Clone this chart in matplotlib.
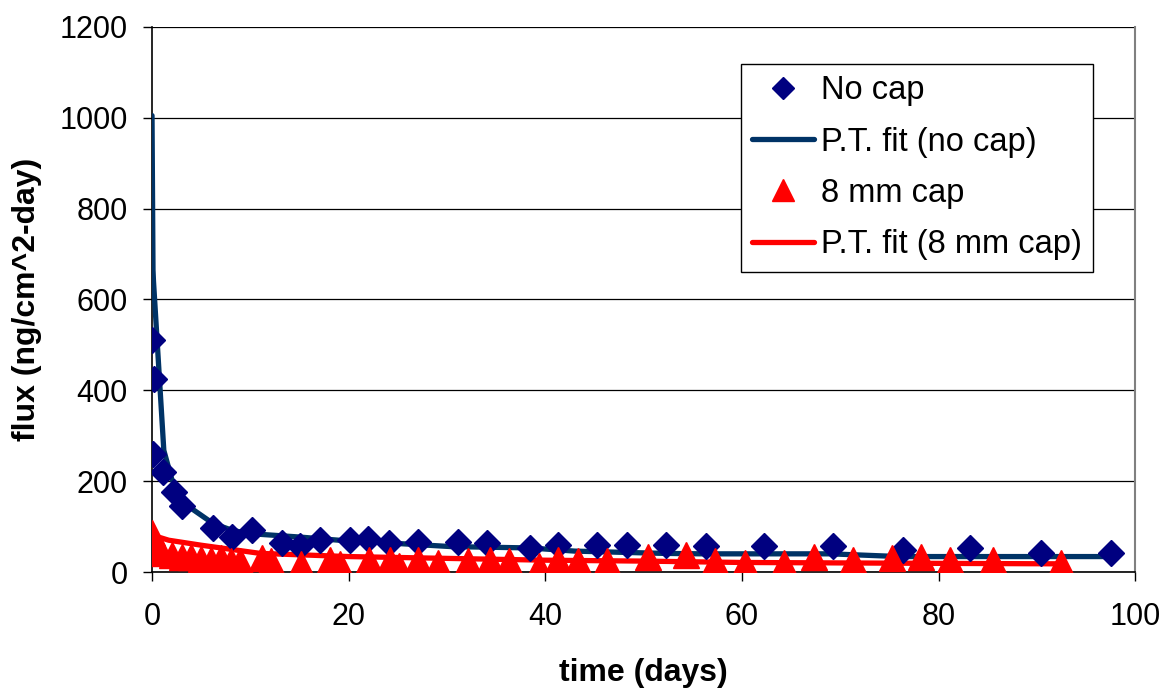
import numpy as np
import matplotlib
matplotlib.use('Agg')
import matplotlib.pyplot as plt

plt.rcParams['font.family'] = ['Liberation Sans', 'DejaVu Sans']

# measured flux, no cap
t_nocap = [0.0, 0.07, 0.2, 1.15, 2.2, 3.1, 6.2, 8.1, 10.2, 13.2, 15.1, 17.1,
           20.1, 22.0, 24.1, 27.1, 31.1, 34.1, 38.4, 41.3, 45.3, 48.3, 52.3,
           56.3, 62.3, 69.3, 76.4, 83.2, 90.4, 97.5]
flux_nocap = [511, 259, 424, 221, 177, 145, 96, 78, 92, 63, 57, 70,
              70, 72, 63, 67, 65, 63, 52, 59, 59, 59, 60,
              58, 58, 58, 48, 52, 41, 41]

# measured flux, 8 mm cap
t_cap = [0.0, 0.4, 1.0, 2.0, 3.0, 4.0, 5.0, 6.0, 7.0, 8.0, 9.0, 11.2, 12.1,
         15.2, 18.1, 19.1, 22.1, 24.2, 25.1, 27.1, 29.1, 32.1, 34.4, 36.3,
         39.4, 41.3, 43.3, 46.3, 50.4, 54.3, 57.3, 60.3, 64.3, 67.3, 71.3,
         75.3, 78.2, 81.2, 85.5, 92.5]
flux_cap = [85, 48, 42, 38, 33, 32, 28, 27, 30, 25, 24, 30, 24,
            18, 26, 18, 26, 26, 14, 26, 20, 24, 27, 24,
            14, 26, 24, 24, 34, 37, 24, 20, 20, 34, 27,
            30, 34, 26, 26, 20]

# P.T. model fits
t_fit_nocap = [0.0, 0.1, 0.15, 1.2, 2.0, 3.2, 4.0, 6.2, 8.0, 9.6, 13.0, 15.0,
               19.0, 24.0, 30.4, 38.4, 43.0, 52.0, 56.0, 62.0, 69.0, 76.0,
               83.0, 90.0, 97.5]
flux_fit_nocap = [1005, 665, 640, 268, 205, 158, 140, 107, 93, 85, 80, 77,
                  70, 64, 56, 53, 46, 41, 40, 40, 40, 34,
                  34, 34, 34]

t_fit_cap = [0.0, 0.2, 1.7, 5.0, 11.0, 20.0, 30.0, 40.0, 50.0, 60.0, 70.0,
             80.0, 92.5]
flux_fit_cap = [100, 80, 70, 59, 41, 34, 30, 26, 24, 21, 20,
                19, 18]

fig = plt.figure(figsize=(11.64, 6.92), dpi=100)
ax = fig.add_axes([0.1306, 0.1734, 0.8446, 0.7876])

navy = '#000080'
navy_line = '#003366'
red = '#ff0000'

ax.plot(t_nocap, flux_nocap, linestyle='none', marker='D', ms=13.5,
        color=navy, label='No cap', zorder=4)
ax.plot(t_fit_nocap, flux_fit_nocap, color=navy_line, lw=3.8,
        solid_capstyle='round', label='P.T. fit (no cap)', zorder=3)
ax.plot(t_cap, flux_cap, linestyle='none', marker='^', ms=18.5,
        color=red, label='8 mm cap', zorder=5)
ax.plot(t_fit_cap, flux_fit_cap, color=red, lw=3.8,
        solid_capstyle='round', label='P.T. fit (8 mm cap)', zorder=3)

ax.set_xlim(0, 100)
ax.set_ylim(0, 1200)
ax.set_xticks(np.arange(0, 101, 20))
ax.set_yticks(np.arange(0, 1201, 200))
ax.yaxis.grid(True, color='#000000', lw=0.9)
ax.set_axisbelow(True)

for side in ['left', 'bottom']:
    ax.spines[side].set_color('black')
    ax.spines[side].set_linewidth(1.2)
ax.spines['top'].set_visible(False)
ax.spines['right'].set_color('#808080')
ax.spines['right'].set_linewidth(1.5)

ax.tick_params(axis='both', direction='out', length=6.5, width=1,
               labelsize=22)
ax.tick_params(axis='y', pad=11)
ax.tick_params(axis='x', pad=15)

ax.set_xlabel('time (days)', fontsize=23, fontweight='bold')
ax.xaxis.set_label_coords(0.5, -0.185)
ax.xaxis.label.set_va('center')
ax.set_ylabel('flux (ng/cm^2-day)', fontsize=23, fontweight='bold')
ax.yaxis.set_label_coords(-0.127, 0.5)
ax.yaxis.label.set_va('center')

leg = ax.legend(loc='upper right', bbox_to_anchor=(1093 / 1164, 1 - 64 / 692),
                bbox_transform=fig.transFigure, fontsize=23.5, frameon=True,
                fancybox=False, edgecolor='black', framealpha=1,
                handlelength=1.9, handletextpad=0.2, labelspacing=0.62,
                borderpad=0.35, borderaxespad=0, markerscale=0.85)
leg.get_frame().set_linewidth(1.0)

fig.savefig('out.png', dpi=100)
